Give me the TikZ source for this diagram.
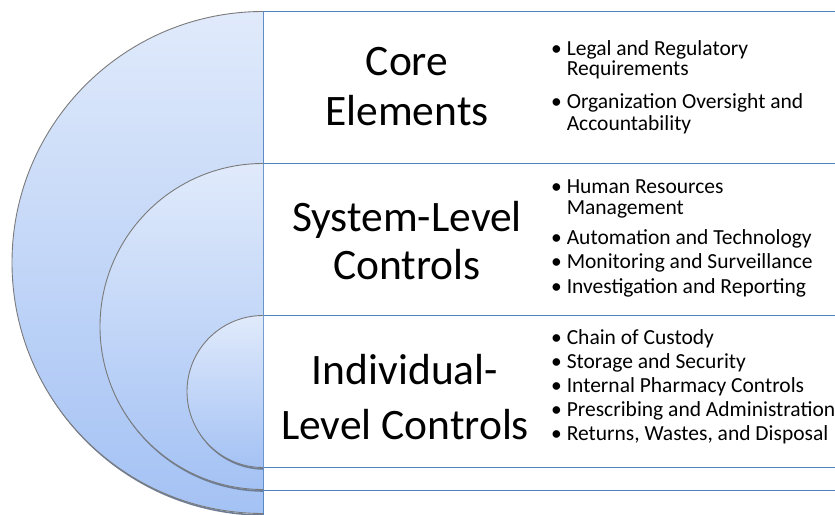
\documentclass[tikz,border=0pt]{standalone}
\usepackage{fontspec}
\setmainfont{Carlito}
\usetikzlibrary{positioning}
\definecolor{ringtop}{HTML}{E0EAFB}
\definecolor{ringbot}{HTML}{A4C2F4}
\definecolor{ringline}{HTML}{7A7A7A}
\definecolor{ringshade}{HTML}{6E7E96}
\definecolor{bandline}{HTML}{4F81BD}
\tikzset{
  ringfill/.style={top color=ringtop, bottom color=ringbot},
  ringedge/.style={draw=ringline, line width=0.9pt},
  ringshadow/.style={draw=ringshade, line width=1.6pt},
  band/.style={draw=bandline, line width=1pt},
  title/.style={anchor=base, inner sep=0pt, font=\fontsize{43.5}{48}\selectfont},
  item/.style={anchor=base west, inner sep=0pt, font=\fontsize{21.5}{20}\selectfont},
}
\newcommand{\bul}{\textbullet\ }
\newcommand{\hang}{\phantom{\textbullet\ }}
\begin{document}
\begin{tikzpicture}[x=1pt,y=-1pt]
    \useasboundingbox (0,0) rectangle (835,514);
    \clip (0,0) rectangle (835,514);
    % Bands
    \draw[band] (263.5,11.5) rectangle (860,516);
    \draw[band] (263.5,163.5) -- (860,163.5);
    \draw[band] (263.5,490.5) -- (860,490.5);
    \draw[band] (263.5,315.5) -- (860,315.5);
    \draw[band] (263.5,467.5) -- (860,467.5);

    % Rings, outer to inner
    \begin{scope}
    \clip (0,0) rectangle (263,514);
    \draw[ringshadow] (264.5,13) arc[start angle=270, end angle=90, radius=251];
    \shade[ringfill] (263,11.5) arc[start angle=270, end angle=90, radius=251] -- cycle;
    \draw[ringedge] (263,11.5) arc[start angle=270, end angle=90, radius=251];
    \draw[ringshadow] (264.5,165) arc[start angle=270, end angle=90, radius=163];
    \shade[ringfill] (263,163.5) arc[start angle=270, end angle=90, radius=163] -- cycle;
    \draw[ringedge] (263,163.5) arc[start angle=270, end angle=90, radius=163];
    \draw[ringshadow] (264.5,317) arc[start angle=270, end angle=90, radius=76];
    \shade[ringfill] (263,315.5) arc[start angle=270, end angle=90, radius=76] -- cycle;
    \draw[ringedge] (263,315.5) arc[start angle=270, end angle=90, radius=76];
    \end{scope}

    % Core
    \node[title] (core1) at (407,75) {Core};
    \node[title] (core2) at (407,125) {Elements};
    \node[item] (legal1) at (551,55) {\bul Legal and Regulatory};
    \node[item] (legal2) at (551,75) {\hang Requirements};
    \node[item] (org1) at (551,108) {\bul Organization Oversight and};
    \node[item] (org2) at (551,130) {\hang Accountability};

    % System level
    \node[title] (sys1) at (407,231) {System-Level};
    \node[title] (sys2) at (407,279) {Controls};
    \node[item] (hr1) at (551,193) {\bul Human Resources};
    \node[item] (hr2) at (551,214) {\hang Management};
    \node[item] (auto) at (551,244) {\bul Automation and Technology};
    \node[item] (mon) at (551,268) {\bul Monitoring and Surveillance};
    \node[item] (inv) at (551,293) {\bul Investigation and Reporting};

    % Individual level
    \node[title] (ind1) at (405,384) {Individual-};
    \node[title] (ind2) at (405,439) {Level Controls};
    \node[item] (chain) at (551,344) {\bul Chain of Custody};
    \node[item] (stor) at (551,368) {\bul Storage and Security};
    \node[item] (pharm) at (551,392) {\bul Internal Pharmacy Controls};
    \node[item] (presc) at (551,416) {\bul Prescribing and Administration};
    \node[item] (ret) at (551,440) {\bul Returns, Wastes, and Disposal};
\end{tikzpicture}
\end{document}
